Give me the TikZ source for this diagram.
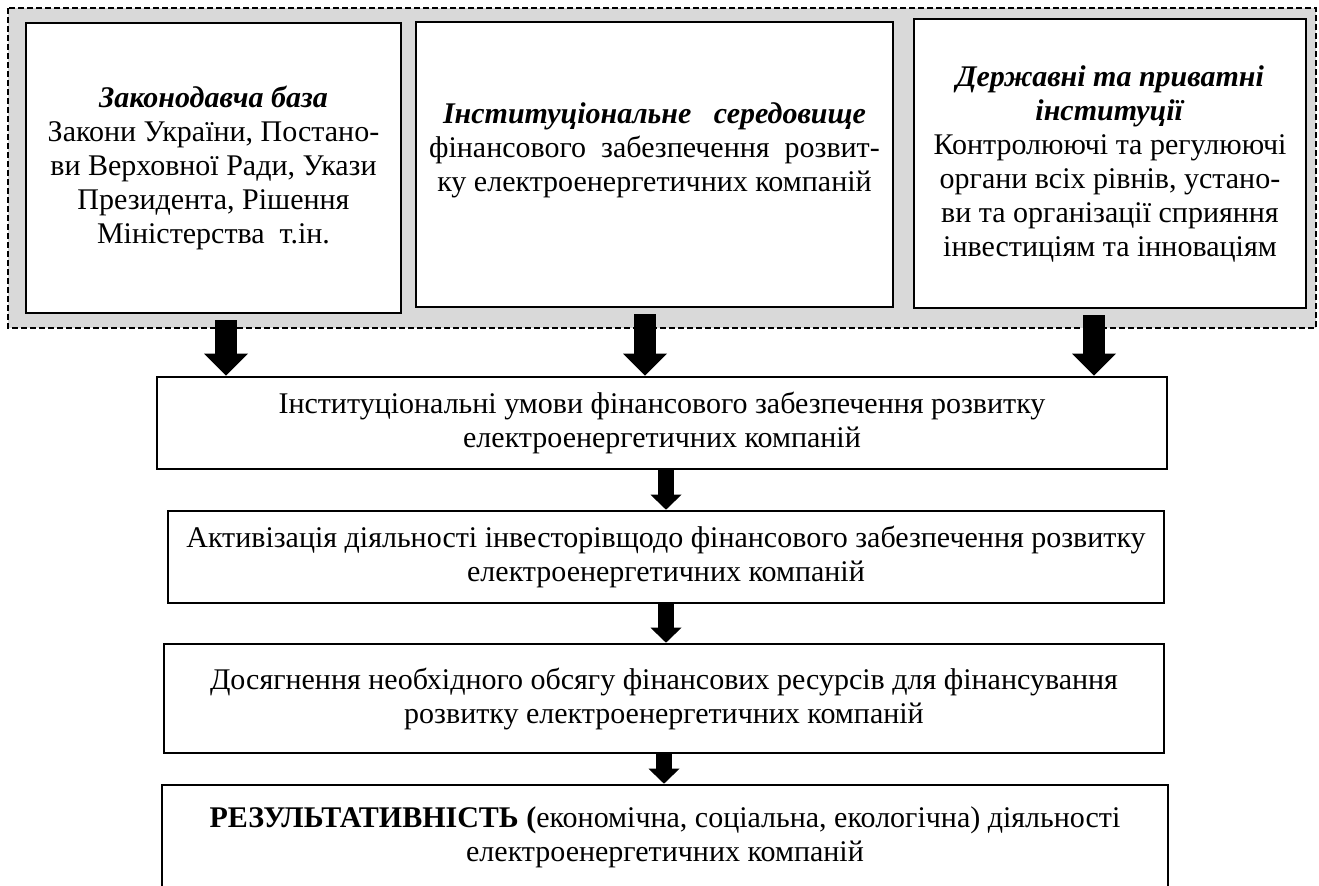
\documentclass[tikz,border=0pt]{standalone}
\usepackage{fontspec}
\setmainfont{Liberation Serif}
\usetikzlibrary{arrows.meta}
\definecolor{framegray}{RGB}{217,217,217}
\tikzset{
  box/.style={draw,fill=white,line width=1.3pt,align=center,inner sep=0pt,font=\fontsize{15}{17}\selectfont},
  toparrow/.style={line width=11pt,-{Triangle[width=22pt,length=11pt,line width'=0pt]},shorten <=3pt},
  downarrow/.style={line width=8pt,-{Triangle[width=15.5pt,length=7.5pt,line width'=0pt]}}
}
\begin{document}
\begin{tikzpicture}[x=0.5pt,y=-0.5pt]
  \useasboundingbox (0,0) rectangle (1319,885);
  \draw[fill=framegray,line width=1pt,dash pattern=on 3pt off 1.5pt] (8,8) rectangle (1316,328);
  \node[box,minimum width=187.5pt,minimum height=145pt] (zakon) at (213.5,168)
    {\textbf{\textit{Законодавча база}}\\Закони України, Постано-\\ви Верховної Ради, Укази\\Президента, Рішення\\Міністерства\ \ т.ін.};
  \node[box,minimum width=238.5pt,minimum height=142.5pt] (seredov) at (654.5,164.5)
    {\textbf{\textit{Інституціональне\ \ \ середовище}}\\фінансового\ \ забезпечення\ \ розвит-\\ку електроенергетичних компаній\\\mbox{}};
  \node[box,minimum width=196pt,minimum height=144.5pt] (instyt) at (1110,163.5)
    {\textbf{\textit{Державні та приватні}}\\\textbf{\textit{інституції}}\\Контролюючі та регулюючі\\органи всіх рівнів, устано-\\ви та організації сприяння\\інвестиціям та інноваціям};
  \node[box,minimum width=505pt,minimum height=46pt] (umovy) at (662,423)
    {Інституціональні умови фінансового забезпечення розвитку\\електроенергетичних компаній};
  \node[box,minimum width=498pt,minimum height=46pt] (aktyv) at (666,557)
    {Активізація діяльності інвесторівщодо фінансового забезпечення розвитку\\електроенергетичних компаній};
  \node[box,minimum width=500pt,minimum height=54.5pt] (obsyag) at (664,698.5)
    {Досягнення необхідного обсягу фінансових ресурсів для фінансування\\розвитку електроенергетичних компаній};
  \node[box,minimum width=503pt,minimum height=52.5pt] (rezult) at (665,837.5)
    {\textbf{РЕЗУЛЬТАТИВНІСТЬ (}економічна, соціальна, екологічна) діяльності\\електроенергетичних компаній};
  \draw[toparrow] ([xshift=6.25pt]zakon.south) -- ([xshift=6.25pt]zakon.south |- umovy.north);
  \draw[toparrow] ([xshift=-4.75pt]seredov.south) -- ([xshift=-4.75pt]seredov.south |- umovy.north);
  \draw[toparrow] ([xshift=-8pt]instyt.south) -- ([xshift=-8pt]instyt.south |- umovy.north);
  \draw[downarrow] (aktyv.north |- umovy.south) -- (aktyv.north);
  \draw[downarrow] (aktyv.south) -- (aktyv.south |- obsyag.north);
  \draw[downarrow] (obsyag.south) -- (obsyag.south |- rezult.north);
\end{tikzpicture}
\end{document}
